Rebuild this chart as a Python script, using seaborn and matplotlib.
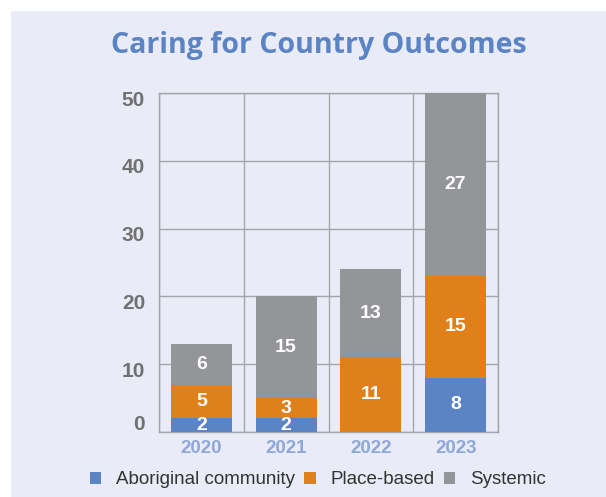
import matplotlib
matplotlib.use("Agg")
import matplotlib.pyplot as plt
import matplotlib.transforms as mtransforms
from matplotlib.patches import Patch, Rectangle
import seaborn as sns
import numpy as np

years = ["2020", "2021", "2022", "2023"]
aboriginal = [2, 2, 0, 8]
place_based = [5, 3, 11, 15]
systemic = [6, 15, 13, 27]
series_names = ["Aboriginal community", "Place-based", "Systemic"]
y_ticks = [0, 10, 20, 30, 40, 50]

colors = ["#5b84c4", "#e0801c", "#949599"]
bg = "#e9ebf7"

sns.set_theme(style="white")
plt.rcParams["font.family"] = ["Liberation Sans", "DejaVu Sans"]

fig = plt.figure(figsize=(6.06, 4.97), dpi=100, facecolor="white")
fig.patches.append(Rectangle((11 / 606, 0), 1, (497 - 11) / 497, transform=fig.transFigure,
                             facecolor=bg, edgecolor="none", zorder=-10))

ax = fig.add_axes([159 / 606, 1 - 432 / 497, (498 - 159) / 606, (432 - 93) / 497])
ax.set_facecolor(bg)
ax.set_axisbelow(True)

series = [aboriginal, place_based, systemic]
bottom = np.zeros(len(years))
for vals, col, name in zip(series, colors, series_names):
    sns.barplot(x=years, y=vals, bottom=bottom, color=col, width=0.72, ax=ax,
                saturation=1, zorder=3, label=name, edgecolor="none", linewidth=0)
    for i, v in enumerate(vals):
        if v > 0:
            ax.text(i, bottom[i] + v / 2, str(v), ha="center", va="center",
                    color="white", fontsize=14, fontweight="bold", zorder=5)
    bottom = bottom + np.array(vals)

ax.set_xlim(-0.5, 3.5)
ax.set_ylim(0, 50)
ax.set_yticks(y_ticks)
ax.set_xticks([-0.5, 0.5, 1.5, 2.5, 3.5], minor=True)
ax.grid(which="minor", axis="x", color="#a4a4a8", lw=1)
ax.grid(which="major", axis="y", color="#a4a4a8", lw=1)
ax.grid(which="major", axis="x", visible=False)
for s in ax.spines.values():
    s.set_visible(True)
    s.set_color("#a4a4a8")
    s.set_linewidth(1)
ax.tick_params(axis="both", which="both", length=0)
ax.tick_params(axis="y", pad=10, labelsize=15, labelcolor="#717171")
ax.tick_params(axis="x", pad=6, labelsize=13.5, labelcolor="#8ea8d8")
for lbl in ax.get_yticklabels():
    lbl.set_fontweight("bold")
for lbl in ax.get_xticklabels():
    lbl.set_fontweight("bold")
ax.set_xlabel("")
ax.set_ylabel("")
if ax.get_legend() is not None:
    ax.get_legend().remove()

# tick label offsets
for lbl, t in zip(ax.get_yticklabels(), y_ticks):
    dy = 0.10 if t == 0 else -0.05
    lbl.set_transform(lbl.get_transform() + mtransforms.ScaledTranslation(0, dy, fig.dpi_scale_trans))

fig.text(319 / 606, 1 - 45 / 497, "Caring for Country Outcomes", ha="center", va="center",
         fontsize=20.5, fontweight="bold", color="#5b84c4", family=["Open Sans", "DejaVu Sans"])

handles = [Patch(facecolor=c, edgecolor="none") for c in colors]
fig.legend(handles, series_names, loc="center", bbox_to_anchor=(318 / 606, 1 - 480 / 497),
           ncol=3, frameon=False, fontsize=13.5, handlelength=0.6, handleheight=0.6,
           handletextpad=0.8, columnspacing=0.5, labelcolor="#333333")

fig.savefig("out.png", dpi=100, facecolor="white")
